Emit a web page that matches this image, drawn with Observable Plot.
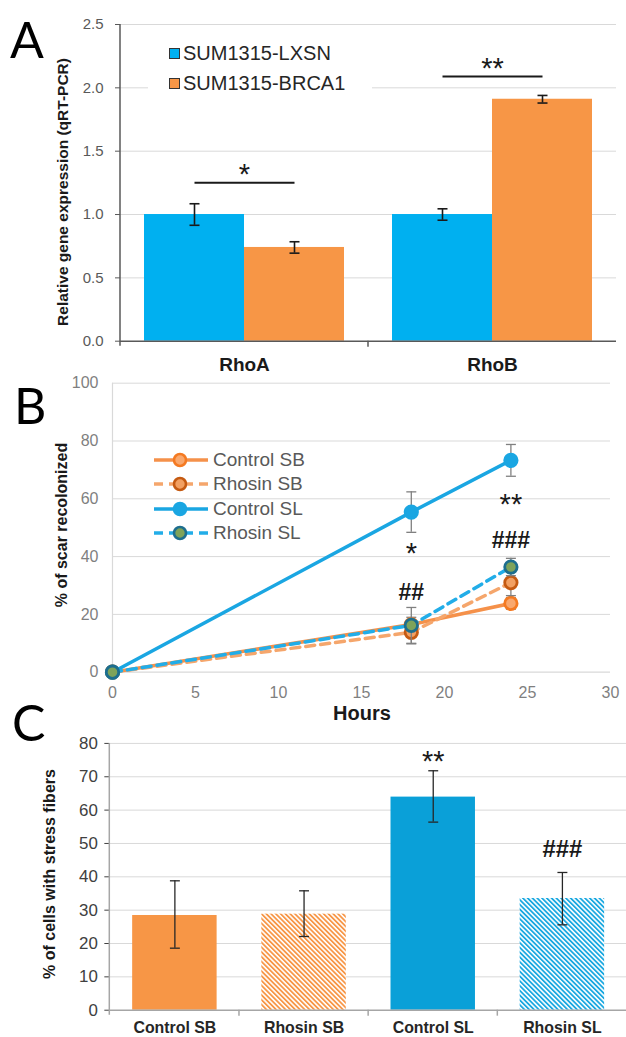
<!DOCTYPE html>
<html>
<head>
<meta charset="utf-8">
<script src="https://cdn.jsdelivr.net/npm/d3@7"></script>
<script src="https://cdn.jsdelivr.net/npm/@observablehq/plot@0.6"></script>
<style>
  html, body { margin: 0; padding: 0; background: #fff; overflow: hidden; }
  #root { position: relative; width: 626px; height: 1037px; font-family: "Liberation Sans", Arial, sans-serif; overflow: hidden; }
  .panel { position: absolute; left: 0; }
  .letter { position: absolute; font-family: Lato, "Open Sans", sans-serif; font-size: 50px; line-height: 50px; color: #000; }
  .ylab { position: absolute; font-weight: bold; font-size: 16px; color: #1a1a1a; white-space: nowrap;
          transform: translate(-50%, -50%) rotate(-90deg); }
  .xlab { position: absolute; font-weight: bold; font-size: 20px; color: #1a1a1a; white-space: nowrap;
          transform: translate(-50%, -50%); }
  .legA { position: absolute; left: 148px; top: 36px; width: 224px; height: 64px; background: #fff; }
  .legA .row { position: absolute; left: 0; height: 24px; display: flex; align-items: center; font-size: 20px; color: #262626; }
  .legA .sw { width: 9px; height: 9px; border: 1px solid #333; margin-left: 21px; margin-right: 3px; }
  .legB .row { position: absolute; left: 153px; height: 24px; display: flex; align-items: center; font-size: 19px; color: #595959; }
  .legB svg { margin-right: 4px; }
</style>
</head>
<body>
<div id="root"></div>
<script>
// ---------------- DATA ----------------
// Panel A
const genes = ["RhoA", "RhoB"];
const linesA = ["SUM1315-LXSN", "SUM1315-BRCA1"];
const exprLXSN = [1.00, 1.00];
const errLXSN = [0.085, 0.045];
const exprBRCA1 = [0.74, 1.91];
const errBRCA1 = [0.045, 0.03];
const sigA = ["*", "**"];
const sigBarA = [1.25, 2.09];
const sigStarA = [1.37, 2.21];
const ticksA = [0, 0.5, 1.0, 1.5, 2.0, 2.5];

// Panel B
const hours = [0, 18, 24];
const seriesB = ["Control SB", "Rhosin SB", "Control SL", "Rhosin SL"];
const controlSB = [0, 16.5, 23.8];
const controlSBerr = [0, 2.5, 2.0];
const rhosinSB = [0, 13.8, 31.0];
const rhosinSBerr = [0, 4.0, 4.5];
const controlSL = [0, 55.4, 73.3];
const controlSLerr = [0, 7.0, 5.5];
const rhosinSL = [0, 16.2, 36.4];
const rhosinSLerr = [0, 6.2, 3.0];
const annB = ["*", "##", "**", "###"];
const annBhour = [18, 18, 24, 24];
const annBy = [43.3, 27.7, 60.5, 45.6];
const ticksBx = [0, 5, 10, 15, 20, 25, 30];
const ticksBy = [0, 20, 40, 60, 80, 100];

// Panel C
const groupsC = ["Control SB", "Rhosin SB", "Control SL", "Rhosin SL"];
const fibers = [28.4, 28.8, 63.9, 33.5];
const fibersLo = [18.6, 22.1, 56.4, 25.6];
const fibersHi = [38.8, 35.8, 71.8, 41.3];
const sigC = ["", "", "**", "###"];
const sigCy = [0, 0, 76.5, 48.2];
const ticksC = [0, 10, 20, 30, 40, 50, 60, 70, 80];

// ---------------- STYLES ----------------
const FONT = '"Liberation Sans", Arial, sans-serif';
const colorsA = ["#00b0f0", "#f79646"];
const styleB = {
  "Control SB": {line: "#f5914a", dash: null, fill: "#f9a86e", ring: "#f47a22"},
  "Rhosin SB":  {line: "#f5a66c", dash: "9,6", fill: "#f2a062", ring: "#c55a11"},
  "Control SL": {line: "#1aa6e2", dash: null, fill: "#1aa6e2", ring: "#1aa6e2"},
  "Rhosin SL":  {line: "#22ade8", dash: "9,6", fill: "#7ea35a", ring: "#1d6e8e"}
};
const fillC = ["#f79646", "url(#hatchO)", "#0aa0d8", "url(#hatchB)"];
const capSymbol = {draw(ctx, size) { const w = Math.sqrt(size / Math.PI); ctx.moveTo(-w, 0); ctx.lineTo(w, 0); }};
const starStyle = {fontSize: 29, fill: "#1a1a1a", dy: 7, letterSpacing: 4};
const hashStyle = {fontSize: 24, fontWeight: "bold", fill: "#1a1a1a"};

const root = document.getElementById("root");
function addDiv(cls, html, css) {
  const d = document.createElement("div");
  d.className = cls; d.innerHTML = html; Object.assign(d.style, css || {});
  root.appendChild(d); return d;
}
function place(svg, top) {
  const w = document.createElement("div");
  w.className = "panel"; w.style.top = top + "px";
  w.appendChild(svg); root.appendChild(w);
}

// ---------------- PANEL A ----------------
const rowsA = genes.flatMap((g, i) => [
  {gene: g, line: linesA[0], value: exprLXSN[i], err: errLXSN[i]},
  {gene: g, line: linesA[1], value: exprBRCA1[i], err: errBRCA1[i]}
]);
const capsA = rowsA.flatMap(d => [{...d, y: d.value - d.err}, {...d, y: d.value + d.err}]);
const sigRowsA = genes.map((g, i) => ({gene: g, label: sigA[i], bar: sigBarA[i], star: sigStarA[i]}));

const plotA = Plot.plot({
  width: 626, height: 380,
  marginTop: 24, marginBottom: 39.3, marginLeft: 120, marginRight: 10,
  style: {fontFamily: FONT, background: "none", overflow: "visible"},
  fx: {domain: genes, padding: 0, label: null},
  x: {domain: linesA, paddingInner: 0, paddingOuter: 0.24, axis: null},
  y: {domain: [0, 2.5], label: null},
  color: {domain: linesA, range: colorsA},
  marks: [
    Plot.gridY({ticks: ticksA.slice(1), stroke: "#d9d9d9", strokeOpacity: 1}),
    Plot.barY(rowsA, {fx: "gene", x: "line", y: "value", fill: "line"}),
    Plot.ruleX(rowsA, {fx: "gene", x: "line", y1: d => d.value - d.err, y2: d => d.value + d.err, stroke: "#1a1a1a", strokeWidth: 1.6}),
    Plot.dot(capsA, {fx: "gene", x: "line", y: "y", symbol: capSymbol, r: 5, fill: "none", stroke: "#1a1a1a", strokeWidth: 1.6}),
    Plot.link(sigRowsA, {fx: "gene", x1: () => linesA[0], x2: () => linesA[1], y1: "bar", y2: "bar", stroke: "#1a1a1a", strokeWidth: 2}),
    Plot.text(sigRowsA, {fx: "gene", y: "star", text: "label", ...starStyle}),
    Plot.ruleY([0], {stroke: "#595959", strokeWidth: 1.5}),
    Plot.axisY({ticks: ticksA, tickFormat: d3.format(".1f"), tickSize: 5, tickPadding: 12, fontSize: 15, color: "#595959", label: null}),
    Plot.axisFx({anchor: "bottom", tickSize: 0, tickPadding: 16, fontSize: 19, fontWeight: "bold", color: "#1a1a1a", label: null})
  ]
});
{
  const fx = plotA.scale("fx"), y = plotA.scale("y");
  const s = d3.select(plotA);
  const x0 = fx.range[0];
  s.append("line").attr("x1", x0).attr("x2", x0).attr("y1", y.apply(2.5)).attr("y2", y.apply(0) + 5)
    .attr("stroke", "#595959").attr("stroke-width", 1.5);
  const xm = fx.apply(genes[1]);
  s.append("line").attr("x1", xm).attr("x2", xm).attr("y1", y.apply(0)).attr("y2", y.apply(0) + 6)
    .attr("stroke", "#595959").attr("stroke-width", 1.5);
}
place(plotA, 0);

// ---------------- PANEL B ----------------
const valsB = [controlSB, rhosinSB, controlSL, rhosinSL];
const errsB = [controlSBerr, rhosinSBerr, controlSLerr, rhosinSLerr];
const rowsB = seriesB.flatMap((s, k) => hours.map((h, i) => ({series: s, hour: h, value: valsB[k][i], err: errsB[k][i]})));
const rowsAnnB = annB.map((t, i) => ({t, hour: annBhour[i], y: annBy[i], star: t.includes("*")}));

const marksB = [
  Plot.gridY({ticks: ticksBy.slice(1), stroke: "#d9d9d9", strokeOpacity: 1}),
  Plot.ruleX([0], {stroke: "#d9d9d9", strokeWidth: 1.2}),
  Plot.ruleY([0], {stroke: "#d9d9d9", strokeWidth: 1.2}),
  Plot.axisX({ticks: ticksBx, tickSize: 0, tickPadding: 14, fontSize: 16, color: "#7f7f7f", label: null}),
  Plot.axisY({ticks: ticksBy, tickSize: 0, tickPadding: 14, fontSize: 16, color: "#7f7f7f", label: null})
];
for (const s of seriesB) {
  const st = styleB[s];
  const rows = rowsB.filter(d => d.series === s);
  const errRows = rows.filter(d => d.err > 0);
  marksB.push(
    Plot.line(rows, {x: "hour", y: "value", stroke: st.line, strokeWidth: 3.5, strokeDasharray: st.dash || undefined}),
    Plot.ruleX(errRows, {x: "hour", y1: d => d.value - d.err, y2: d => d.value + d.err, stroke: "#808080", strokeWidth: 1.3}),
    Plot.dot(errRows.flatMap(d => [{...d, y: d.value - d.err}, {...d, y: d.value + d.err}]),
      {x: "hour", y: "y", symbol: capSymbol, r: 5, fill: "none", stroke: "#808080", strokeWidth: 1.3}),
    Plot.dot(rows, {x: "hour", y: "value", r: 6.2, fill: st.fill, stroke: st.ring, strokeWidth: 2.8})
  );
}
marksB.push(
  Plot.text(rowsAnnB.filter(d => d.star), {x: "hour", y: "y", text: "t", ...starStyle}),
  Plot.text(rowsAnnB.filter(d => !d.star), {x: "hour", y: "y", text: "t", ...hashStyle, fontSize: 23})
);
const plotB = Plot.plot({
  width: 626, height: 358,
  marginTop: 10.7, marginBottom: 58.3, marginLeft: 112, marginRight: 16,
  style: {fontFamily: FONT, background: "none", overflow: "visible"},
  x: {domain: [0, 30], label: null},
  y: {domain: [0, 100], label: null},
  marks: marksB
});
place(plotB, 372);

// ---------------- PANEL C ----------------
const rowsC = groupsC.map((g, i) => ({group: g, value: fibers[i], lo: fibersLo[i], hi: fibersHi[i], sig: sigC[i], sy: sigCy[i]}));
const capsC = rowsC.flatMap(d => [{...d, y: d.lo}, {...d, y: d.hi}]);
const plotC = Plot.plot({
  width: 630, height: 307,
  marginTop: 13, marginBottom: 25.5, marginLeft: 110, marginRight: 0,
  style: {fontFamily: FONT, background: "none", overflow: "visible"},
  x: {domain: groupsC, paddingInner: 0.35, paddingOuter: 0.175, label: null},
  y: {domain: [0, 80], label: null},
  color: {domain: groupsC, range: fillC},
  marks: [
    Plot.gridY({ticks: ticksC.slice(1), stroke: "#d9d9d9", strokeOpacity: 1}),
    Plot.barY(rowsC, {x: "group", y: "value", fill: "group"}),
    Plot.ruleX(rowsC, {x: "group", y1: "lo", y2: "hi", stroke: "#262626", strokeWidth: 1.3}),
    Plot.dot(capsC, {x: "group", y: "y", symbol: capSymbol, r: 5, fill: "none", stroke: "#262626", strokeWidth: 1.3}),
    Plot.ruleY([0], {stroke: "#a6a6a6", strokeWidth: 1.5}),
    Plot.axisY({ticks: ticksC, tickSize: 5, tickPadding: 7, fontSize: 17, color: "#404040", label: null}),
    Plot.axisX({tickSize: 0, tickPadding: 12, fontSize: 16, fontWeight: "bold", color: "#262626", label: null}),
    Plot.text(rowsC.filter(d => d.sig.includes("*")), {x: "group", y: "sy", text: "sig", ...starStyle}),
    Plot.text(rowsC.filter(d => d.sig.includes("#")), {x: "group", y: "sy", text: "sig", ...hashStyle})
  ]
});
{
  const s = d3.select(plotC);
  const defs = s.insert("defs", ":first-child");
  [["hatchO", "#f79646"], ["hatchB", "#1aa8e0"]].forEach(([id, c]) => {
    const p = defs.append("pattern").attr("id", id).attr("patternUnits", "userSpaceOnUse")
      .attr("width", 3.4).attr("height", 3.4).attr("patternTransform", "rotate(-45)");
    p.append("rect").attr("width", 3.4).attr("height", 3.4).attr("fill", "#fff");
    p.append("rect").attr("width", 1.8).attr("height", 3.4).attr("fill", c);
  });
  s.selectAll("defs").lower();
  const x = plotC.scale("x"), y = plotC.scale("y");
  const x0 = x.range[0];
  s.append("line").attr("x1", x0).attr("x2", x0).attr("y1", y.apply(80)).attr("y2", y.apply(0) + 5)
    .attr("stroke", "#a6a6a6").attr("stroke-width", 1.5);
  const gap = (x.step - x.bandwidth) / 2;
  groupsC.slice(1).forEach(g => {
    const xb = x.apply(g) - gap;
    s.append("line").attr("x1", xb).attr("x2", xb).attr("y1", y.apply(0)).attr("y2", y.apply(0) + 6)
      .attr("stroke", "#a6a6a6").attr("stroke-width", 1.5);
  });
}
place(plotC, 730);

// ---------------- LEGENDS & TITLES ----------------
const legA = addDiv("legA", "");
linesA.forEach((name, i) => {
  const r = document.createElement("div");
  r.className = "row"; r.style.top = (5 + i * 30) + "px";
  r.innerHTML = `<div class="sw" style="background:${colorsA[i]}"></div><span>${name}</span>`;
  legA.appendChild(r);
});
const legB = addDiv("legB", "");
seriesB.forEach((name, i) => {
  const st = styleB[name];
  const r = document.createElement("div");
  r.className = "row"; r.style.top = (448 + i * 24.4) + "px";
  r.innerHTML = `<svg width="56" height="16"><line x1="1" x2="55" y1="8" y2="8" stroke="${st.line}" stroke-width="3.5" ${st.dash ? `stroke-dasharray="${st.dash}"` : ""}/><circle cx="27" cy="8" r="6" fill="${st.fill}" stroke="${st.ring}" stroke-width="2.6"/></svg><span>${name}</span>`;
  legB.appendChild(r);
});

addDiv("letter", "A", {left: "10px", top: "14px"});
addDiv("letter", "B", {left: "14px", top: "380px"});
addDiv("letter", "C", {left: "12px", top: "697px"});
addDiv("ylab", "Relative gene expression (qRT-PCR)", {left: "63px", top: "192px", fontSize: "15.5px"});
addDiv("ylab", "% of scar recolonized", {left: "62px", top: "525px"});
addDiv("ylab", "% of cells with stress fibers", {left: "50px", top: "874px"});
addDiv("xlab", "Hours", {left: "362px", top: "713px"});
</script>
</body>
</html>
